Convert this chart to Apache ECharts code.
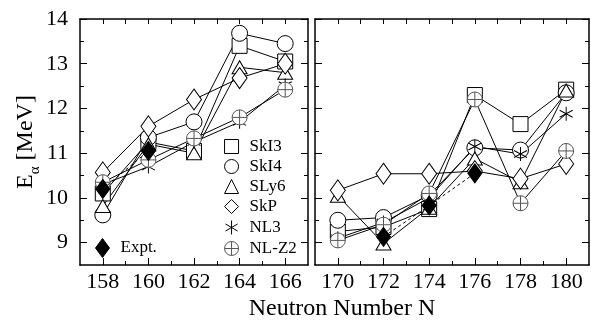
<!DOCTYPE html>
<html><head><meta charset="utf-8">
<script src="https://cdn.jsdelivr.net/npm/echarts@6/dist/echarts.min.js"></script>
<style>html,body{margin:0;padding:0;background:#fff}#c{width:591px;height:322px}</style>
</head><body><div id="c"></div>
<script>
// ---- data ----
const leftN = [158, 160, 162, 164, 166];
const rightN = [170, 172, 174, 176, 178, 180];

const skI3Left = [10.1, 11.25, 11.05, 13.4, 13.05];
const skI4Left = [9.62, 11.35, 11.7, 13.68, 13.45];
const sly6Left = [9.82, 11.2, 11.0, 12.92, 12.8];
const skPLeft = [10.57, 11.6, 12.2, 12.68, 13.0];
const nl3Left = [10.3, 10.7, 11.25, 11.7, 12.52];
const nlz2Left = [10.35, 10.85, 11.33, 11.8, 12.42];

const skI3Right = [9.25, 9.35, 9.75, 12.3, 11.65, 12.42];
const skI4Right = [9.5, 9.56, 10.06, 11.12, 11.07, 12.35];
const sly6Right = [10.05, 8.98, 9.78, 10.88, 10.35, 12.4];
const skPRight = [10.17, 10.54, 10.54, 10.6, 10.43, 10.76];
const nl3Right = [9.1, 9.45, 10.0, 11.15, 10.98, 11.88];
const nlz2Right = [9.05, 9.4, 10.1, 12.2, 9.88, 11.05];

const exptLeftN = [158, 160];
const exptLeft = [10.2, 11.05];
const exptRightN = [172, 174, 176];
const exptRight = [9.13, 9.83, 10.55];

const leftTickLabels = [158, 160, 162, 164, 166];
const leftMinorTicks = [159, 161, 163, 165];
const rightTickLabels = [170, 172, 174, 176, 178, 180];
const rightMinorTicks = [171, 173, 175, 177, 179];
const yTickLabels = [9, 10, 11, 12, 13, 14];
const yMinorTicks = [9.5, 10.5, 11.5, 12.5, 13.5];

// ---- styles ----
const FONT = 'Liberation Serif';
const BLACK = '#000';
const GRAY = '#555';

const pair = (xs, ys) => xs.map((x, i) => [x, ys[i]]);
const allInts = (a, b) => { const r = []; for (let v = a; v <= b; v++) r.push(v); return r; };

const SYM_ASTER = 'path://M0,-10 L0,10 M-8.66,-5 L8.66,5 M-8.66,5 L8.66,-5';
const SYM_CROSSCIRC = 'path://M10,0 A10,10 0 1 1 -10,0 A10,10 0 1 1 10,0 Z M-10,0 L10,0 M0,-10 L0,10';

const kinds = [
  { name: 'SkI3', left: skI3Left, right: skI3Right, symbol: 'rect', size: 15, fill: '#fff', stroke: BLACK },
  { name: 'SkI4', left: skI4Left, right: skI4Right, symbol: 'circle', size: 16, fill: '#fff', stroke: BLACK },
  { name: 'SLy6', left: sly6Left, right: sly6Right, symbol: 'triangle', size: [15, 13], fill: '#fff', stroke: BLACK },
  { name: 'SkP', left: skPLeft, right: skPRight, symbol: 'diamond', size: [15, 21], fill: '#fff', stroke: BLACK },
  { name: 'NL3', left: nl3Left, right: nl3Right, symbol: SYM_ASTER, size: [13, 14], fill: 'none', stroke: BLACK },
  { name: 'NL-Z2', left: nlz2Left, right: nlz2Right, symbol: SYM_CROSSCIRC, size: 15, fill: '#fff', stroke: GRAY }
];

const series = [];
kinds.forEach(k => {
  [[0, leftN, k.left], [1, rightN, k.right]].forEach(([g, xs, ys]) => {
    series.push({
      name: k.name, type: 'line', xAxisIndex: g * 3, yAxisIndex: g * 4,
      data: pair(xs, ys), symbol: k.symbol, symbolSize: k.size,
      lineStyle: { color: BLACK, width: 1 },
      itemStyle: { color: k.fill, borderColor: k.stroke, borderWidth: 1 },
      emphasis: { disabled: true }, animation: false, z: 2
    });
  });
});
[[0, exptLeftN, exptLeft], [1, exptRightN, exptRight]].forEach(([g, xs, ys]) => {
  series.push({
    name: 'Expt.', type: 'line', xAxisIndex: g * 3, yAxisIndex: g * 4,
    data: pair(xs, ys), symbol: 'diamond', symbolSize: [14, 19],
    lineStyle: { color: BLACK, width: 1, type: [3, 3] },
    itemStyle: { color: BLACK, borderColor: BLACK, borderWidth: 1 },
    emphasis: { disabled: true }, animation: false, z: 3
  });
});

const grids = [
  { left: 80, top: 19, width: 228, height: 246 },
  { left: 315, top: 19, width: 274, height: 246 }
];

function xAxes(g, min, max, labels, minors) {
  const base = { type: 'value', gridIndex: g, min: min, max: max, interval: 1, splitLine: { show: false } };
  const line = { show: true, lineStyle: { color: BLACK, width: 1.5 } };
  return [
    Object.assign({}, base, {
      position: 'bottom', axisLine: line,
      axisTick: { show: true, inside: true, length: 7, customValues: labels, lineStyle: { color: BLACK, width: 1 } },
      axisLabel: { show: true, customValues: labels, margin: 6, color: BLACK, fontFamily: FONT, fontSize: 22 }
    }),
    Object.assign({}, base, {
      position: 'bottom', axisLine: { show: false },
      axisTick: { show: true, inside: true, length: 4, customValues: minors, lineStyle: { color: BLACK, width: 1 } },
      axisLabel: { show: false }
    }),
    Object.assign({}, base, {
      position: 'top', axisLine: line,
      axisTick: { show: true, inside: true, length: 5, customValues: allInts(min + 1, max - 1), lineStyle: { color: BLACK, width: 1 } },
      axisLabel: { show: false }
    })
  ];
}

function yAxes(g, showLabels) {
  const base = { type: 'value', gridIndex: g, min: 8.5, max: 14, interval: 0.5, splitLine: { show: false } };
  const line = { show: true, lineStyle: { color: BLACK, width: 1.5 } };
  const major = { show: true, inside: true, length: 7, customValues: yTickLabels, lineStyle: { color: BLACK, width: 1 } };
  const minor = { show: true, inside: true, length: 4, customValues: yMinorTicks, lineStyle: { color: BLACK, width: 1 } };
  const leftMain = Object.assign({}, base, {
    position: 'left', axisLine: line, axisTick: major,
    axisLabel: { show: showLabels, customValues: yTickLabels, margin: 12, color: BLACK, fontFamily: FONT, fontSize: 22 }
  });
  if (showLabels) {
    Object.assign(leftMain, {
      name: '{e|E}{s|α}{e| [MeV]}', nameLocation: 'middle', nameRotate: 90, nameGap: 31,
      nameTextStyle: {
        color: BLACK, fontFamily: FONT,
        rich: {
          e: { fontFamily: FONT, fontSize: 24, color: BLACK, lineHeight: 32, verticalAlign: 'middle' },
          s: { fontFamily: FONT, fontSize: 15, color: BLACK, lineHeight: 32, verticalAlign: 'bottom' }
        }
      }
    });
  }
  return [
    leftMain,
    Object.assign({}, base, { position: 'left', axisLine: { show: false }, axisTick: minor, axisLabel: { show: false } }),
    Object.assign({}, base, { position: 'right', axisLine: line, axisTick: major, axisLabel: { show: false } }),
    Object.assign({}, base, { position: 'right', axisLine: { show: false }, axisTick: minor, axisLabel: { show: false } })
  ];
}

const legendText = { color: BLACK, fontFamily: FONT, fontSize: 17, padding: [0, 0, 0, 6] };

const option = {
  backgroundColor: '#fff',
  animation: false,
  grid: grids,
  xAxis: [].concat(xAxes(0, 157, 167, leftTickLabels, leftMinorTicks), xAxes(1, 169, 181, rightTickLabels, rightMinorTicks)),
  yAxis: [].concat(yAxes(0, true), yAxes(1, false)),
  legend: [
    {
      orient: 'vertical', left: 223, top: 138, padding: 0, itemWidth: 14, itemHeight: 14, itemGap: 3,
      selectedMode: false, textStyle: legendText,
      data: kinds.map(k => ({
        name: k.name, icon: k.symbol,
        itemStyle: { color: k.fill, borderColor: k.stroke, borderWidth: 1 }
      }))
    },
    {
      orient: 'vertical', left: 95, top: 238, padding: 0, itemWidth: 14, itemHeight: 19,
      selectedMode: false, textStyle: legendText,
      data: [{ name: 'Expt.', icon: 'diamond', itemStyle: { color: BLACK, borderColor: BLACK, borderWidth: 1 } }]
    }
  ],
  graphic: [
    { type: 'text', x: 342, y: 309, style: { text: 'Neutron Number N', fill: BLACK, font: '24px "Liberation Serif"', textAlign: 'center', textVerticalAlign: 'middle' } }
  ],
  series: series
};

const chart = echarts.init(document.getElementById('c'), null, { renderer: 'canvas' });
chart.setOption(option);
</script>
</body></html>
